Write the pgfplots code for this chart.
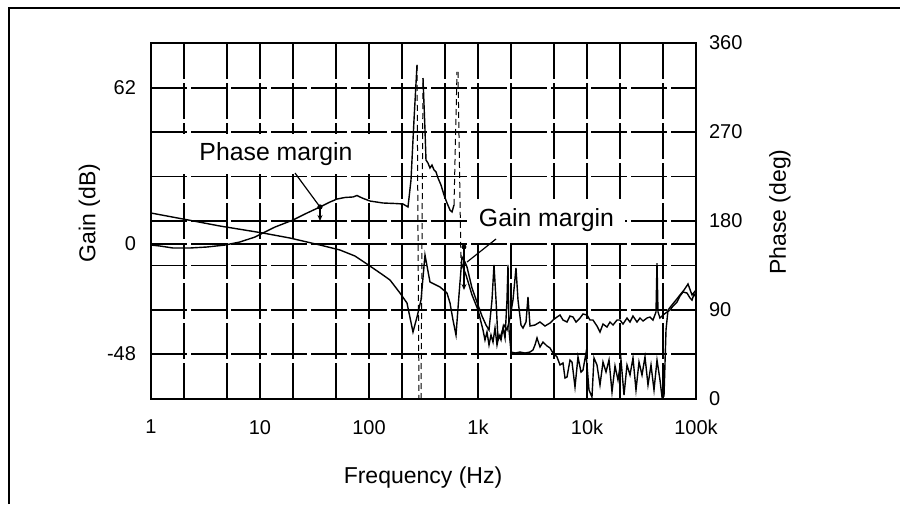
\documentclass[border=0pt]{standalone}
\usepackage{fontspec}
\setmainfont{Liberation Sans}
\usepackage{pgfplots}
\pgfplotsset{compat=1.18}
\usetikzlibrary{arrows.meta}

\begin{document}
\begin{tikzpicture}
\path[use as bounding box] (0,0) rectangle (450pt,252pt);
\draw[line width=1pt] (4.5pt,0) -- (4.5pt,248pt) -- (450pt,248pt);

% gain, left axis
\begin{axis}[
  scale only axis, width=272.5pt, height=178pt,
  at={(75.5pt,52.5pt)}, anchor=south west,
  xmode=log, xmin=1, xmax=100000,
  ymin=-61.6, ymax=79.9,
  major tick length=0pt, minor tick length=0pt,
  ticklabel style={font=\fontsize{10}{12}\selectfont},
  grid style={black, line width=0.75pt, dash pattern=on 18pt off 2pt},
  /pgf/number format/assume math mode=true,
  axis line style={line width=1pt},
  xtick={1,2,5,10,20,50,100,200,500,1000,2000,5000,10000,20000,50000,100000},
  xticklabels={1,,,10,,,100,,,1k,,,10k,,,100k},
  xticklabel style={yshift=-7pt},
  ytick={-43.7,0,62}, yticklabels={-48,0,62},
  yticklabel style={xshift=-4pt},
  ytick pos=left, xtick pos=bottom,
  xmajorgrids, ymajorgrids,
]
\addplot[black, line width=0.7pt, no markers] coordinates {
  (1,12.32) (1.966,9.94) (4.295,7.15) (10.65,4.37) (18.85,2.38) (35.52,-0.40)
  (54.20,-2.38) (74.40,-4.77) (95.87,-7.95) (134.4,-12.32) (155.9,-14.31)
  (192.5,-19.48) (223.1,-23.45) (253.3,-34.98) (275.7,-29.01) (300.0,-22.26)
  (326.4,-4.37) (362.7,-15.10) (448.1,-17.09) (519.5,-19.48) (553.5,-23.45)
  (589.6,-30.21) (628.4,-36.17) (669.4,-20.27) (713.2,-5.17) (759.8,-7.15)
  (792.8,-9.14) (881.1,-17.49) (1000,-24.24) (1088,-28.62) (1184,-32.19)
  (1262,-34.18) (1344,-22.26) (1402,-8.35) (1463,-22.26) (1526,-38.16)
  (1626,-36.17) (1732,-32.19) (1845,-34.18) (1966,-29.41) (2094,-22.26)
  (2231,-9.54) (2328,-22.26) (2480,-32.19) (2587,-33.39) (2757,-31.00)
  (2875,-21.07) (3000,-32.59) (3333,-32.19) (3705,-31.00) (4118,-32.59)
  (4577,-31.40) (4876,-30.21) (5307,-29.01) (5653,-28.22) (6023,-30.21)
  (6554,-31.00) (6983,-28.62) (7440,-29.01) (7928,-31.00) (8627,-29.41)
  (9190,-27.82) (10000,-28.22) (10650,-30.21) (11350,-30.21) (12350,-32.59)
  (13160,-34.98) (14020,-31.80) (15260,-32.99) (16260,-31.00) (17320,-32.19)
  (18850,-30.21) (20080,-30.21) (21400,-31.80) (23280,-29.41) (24800,-31.00)
  (26420,-28.62) (28750,-31.00) (30640,-29.41) (32640,-30.60) (35520,-29.41)
  (37840,-29.01) (40310,-30.21) (42960,-27.03) (43870,-7.55) (44810,-27.03)
  (46730,-29.41) (49800,-28.22) (54200,-27.03) (57740,-26.23) (61520,-24.64)
  (66940,-23.05) (71320,-20.67) (75980,-19.08) (82680,-19.48) (88110,-21.46)
  (91900,-22.26) (95870,-19.87) (100000,-21.07)
};
\end{axis}

% phase, right axis
\begin{axis}[
  scale only axis, width=272.5pt, height=178pt,
  at={(75.5pt,52.5pt)}, anchor=south west,
  xmode=log, xmin=1, xmax=100000,
  ymin=0, ymax=360,
  major tick length=0pt, minor tick length=0pt,
  ticklabel style={font=\fontsize{10}{12}\selectfont},
  grid style={black, line width=0.75pt, dash pattern=on 18pt off 2pt},
  /pgf/number format/assume math mode=true,
  hide x axis, axis y line*=right, axis line style={draw=none},
  ytick={0,45,...,360}, yticklabels={0,,90,,180,,270,,360},
  yticklabel style={xshift=3pt},
  ymajorgrids,
]
\addplot[black, line width=0.7pt, no markers] coordinates {
  (1,155.7) (1.21,154.7) (1.59,152.7) (2.28,152.7) (3.26,153.7) (4.77,155.7)
  (6.55,158.8) (9.0,163.8) (10.65,167.9) (13.73,173.9) (20.08,181.0)
  (25.87,187.1) (35.52,194.2) (43.87,199.2) (50.86,202.2) (60.23,203.8)
  (71.32,204.3) (77.61,205.8) (86.26,203.3) (102.1,200.2) (134.4,198.2)
  (173.2,197.7) (205.1,197.2) (227.9,194.2) (242.8,221.5) (258.7,282.1)
  (275.7,337.8)
};
\addplot[black, line width=0.5pt, densely dashed, no markers] coordinates {(275.7,337.8) (287.5,0)};
\addplot[black, line width=0.5pt, densely dashed, no markers] coordinates {(300.0,0) (312.9,324.6)};
\addplot[black, line width=0.7pt, no markers] coordinates {
  (312.9,324.6) (326.4,272.0) (333.3,241.7) (347.8,238.6) (362.7,233.6)
  (378.4,236.6) (394.8,231.6) (411.8,229.6) (429.5,223.5) (457.7,216.4)
  (487.6,206.3) (519.5,198.2) (553.5,191.1) (577.4,189.1) (602.3,196.2)
};
\addplot[black, line width=0.5pt, densely dashed, no markers] coordinates {(602.3,196.2) (641.7,330.7)};
\addplot[black, line width=0.5pt, densely dashed, no markers] coordinates {(655.4,330.7) (698.2,138.5)};
\addplot[black, line width=0.7pt, no markers] coordinates {
  (698.2,138.5) (776.1,125.4) (881.1,105.2) (1000,90.0) (1111,69.8)
  (1159,59.7) (1209,67.8) (1262,54.6) (1316,64.7) (1373,57.6) (1432,71.8)
  (1494,54.6) (1559,64.7) (1626,59.7) (1696,71.8) (1770,61.7) (1845,100.1)
  (1885,135.5) (1925,69.8) (2008,47.5) (2184,46.5) (2428,47.5) (2699,46.5)
  (3000,47.5) (3196,49.6) (3333,54.6) (3478,61.7) (3705,52.6) (3948,57.6)
  (4296,53.6) (4577,51.6) (4876,46.5) (5307,42.5) (5653,34.4) (6023,36.4)
  (6284,21.2) (6554,22.2) (6983,39.4) (7284,37.4) (7761,12.1) (8268,42.5)
  (8811,27.3) (9190,29.3) (9791,46.5) (10430,9.1) (11110,2.0) (11590,41.5)
  (12350,34.4) (13160,14.2) (14020,37.4) (14940,27.3) (15920,39.4)
  (16960,7.1) (18070,33.4) (19250,19.2) (20510,39.4) (21850,4.0)
  (23280,34.4) (24800,24.3) (26420,41.5) (28150,9.1) (30000,37.4)
  (31960,24.3) (34050,42.5) (36270,14.2) (38660,34.4) (41180,9.1)
  (43870,39.4) (46730,19.2) (48760,2.0) (50860,3.0) (53070,69.8)
  (55350,90.0) (60230,95.1) (65540,100.1) (71320,105.2) (77610,110.2)
  (84460,116.3) (91900,105.2) (100000,110.2)
};

% annotations
\node[fill=white, inner xsep=9.75pt, inner ysep=4pt,
      font=\fontsize{12.4}{14}\selectfont] at (axis cs:14.02,247.8) {Phase margin};
\draw[line width=0.6pt] (axis cs:20.95,228.5) -- (axis cs:35.52,194.2);
\fill (axis cs:35.52,194.2) circle (1.3pt);
\draw[line width=0.6pt, -{Stealth[length=3pt,width=2.5pt]}]
  (axis cs:35.52,194.2) -- (axis cs:35.52,180);

\node[fill=white, inner xsep=5.5pt, inner ysep=4pt,
      font=\fontsize{12.4}{14}\selectfont] at (axis cs:4250,180.5) {Gain margin};
\draw[line width=0.6pt] (axis cs:1463,161.8) -- (axis cs:792.8,138.5);
\fill (axis cs:744,153.7) circle (1.2pt);
\draw[line width=0.6pt, -{Stealth[length=3pt,width=2.5pt]}]
  (axis cs:744,153.7) -- (axis cs:744,110.2);
\end{axis}

\node[rotate=90, font=\fontsize{11.5}{13}\selectfont] at (44.75pt,145.5pt) {Gain (dB)};
\node[rotate=90, font=\fontsize{11.5}{13}\selectfont] at (390pt,146pt) {Phase (deg)};
\node[font=\fontsize{11.5}{13}\selectfont] at (211.5pt,13pt) {Frequency (Hz)};
\end{tikzpicture}
\end{document}
